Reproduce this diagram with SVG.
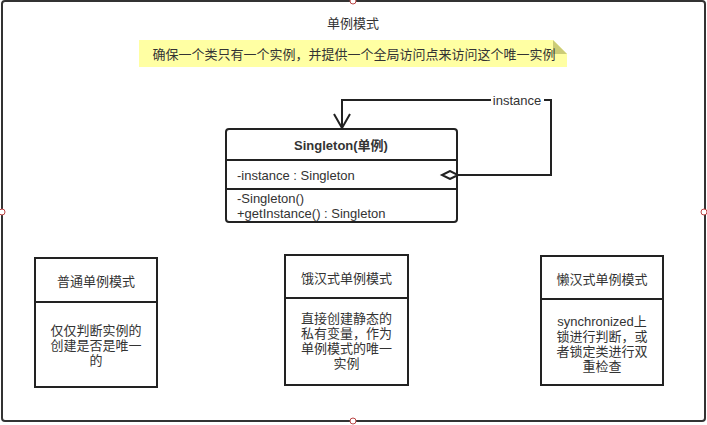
<svg xmlns="http://www.w3.org/2000/svg" width="707" height="425" viewBox="0 0 707 425">
<style>
text{font-family:"Liberation Sans","Noto Sans CJK SC",sans-serif;font-size:13px;fill:#333}
.c{text-anchor:middle}
.box{fill:#fff;stroke:#222;stroke-width:2}
.ln{stroke:#222;stroke-width:2;fill:none}
.h{fill:#fff;stroke:#b44;stroke-width:1}
</style>
<defs>
<marker id="open" viewBox="0 0 20 20" refX="16" refY="10" markerWidth="20" markerHeight="20" markerUnits="userSpaceOnUse" orient="auto">
<path d="M2,2 L16,10 L2,18" fill="none" stroke="#222" stroke-width="2"/>
</marker>
<marker id="dia" viewBox="0 0 20 10" refX="1" refY="5" markerWidth="20" markerHeight="10" markerUnits="userSpaceOnUse" orient="auto-start-reverse">
<path d="M1,5 L9,1 L17,5 L9,9 Z" fill="#fff" stroke="#222" stroke-width="2"/>
</marker>
</defs>
<g id="frame">
<rect x="2" y="1" width="703" height="420" rx="3" fill="#fff" stroke="#333" stroke-width="2"/>
<text class="c" x="353" y="28">单例模式</text>
</g>
<g id="note">
<path d="M139,40 H553 L567,54 V67 H139 Z" fill="#ffff99" opacity="0.9"/>
<path d="M553,40 L567,54 H553 Z" fill="#cccc77"/>
<text class="c" x="354" y="58.5">确保一个类只有一个实例，并提供一个全局访问点来访问这个唯一实例</text>
</g>
<g id="singleton">
<rect class="box" x="226" y="129" width="231" height="93" rx="3"/>
<line class="ln" x1="226" y1="160" x2="457" y2="160"/>
<line class="ln" x1="226" y1="189" x2="457" y2="189"/>
<text class="c" x="341" y="149.5" style="font-weight:bold">Singleton(单例)</text>
<text x="237" y="179.5">-instance : Singleton</text>
<text x="237" y="202.5">-Singleton()</text>
<text x="237" y="217.5">+getInstance() : Singleton</text>
</g>
<g id="connectors">
<path class="ln" d="M458,175 H551 V100 H342 V128" marker-start="url(#dia)" marker-end="url(#open)"/>
<rect x="491" y="93" width="53" height="15" fill="#fff"/>
<text class="c" x="517" y="105">instance</text>
</g>
<g id="normal">
<rect class="box" x="35" y="258" width="122" height="129"/>
<line class="ln" x1="35" y1="302" x2="157" y2="302"/>
<text class="c" x="96" y="285.5">普通单例模式</text>
<text class="c" x="96" y="334.5">仅仅判断实例的</text>
<text class="c" x="96" y="349.5">创建是否是唯一</text>
<text class="c" x="96" y="364.5">的</text>
</g>
<g id="hungry">
<rect class="box" x="285" y="255" width="123" height="130"/>
<line class="ln" x1="285" y1="298" x2="408" y2="298"/>
<text class="c" x="346.5" y="282.5">饿汉式单例模式</text>
<text class="c" x="346.5" y="322.5">直接创建静态的</text>
<text class="c" x="346.5" y="337.5">私有变量，作为</text>
<text class="c" x="346.5" y="352.5">单例模式的唯一</text>
<text class="c" x="346.5" y="367.5">实例</text>
</g>
<g id="lazy">
<rect class="box" x="541" y="256" width="122" height="129"/>
<line class="ln" x1="541" y1="299" x2="663" y2="299"/>
<text class="c" x="602" y="283.5">懒汉式单例模式</text>
<text class="c" x="602" y="325.5">synchronized上</text>
<text class="c" x="602" y="340.5">锁进行判断，或</text>
<text class="c" x="602" y="355.5">者锁定类进行双</text>
<text class="c" x="602" y="370.5">重检查</text>
</g>
<g id="handles">
<circle class="h" cx="353" cy="1" r="3"/>
<circle class="h" cx="2" cy="212" r="3"/>
<circle class="h" cx="704" cy="212" r="3"/>
<circle class="h" cx="353" cy="421" r="3"/>
</g>
</svg>
